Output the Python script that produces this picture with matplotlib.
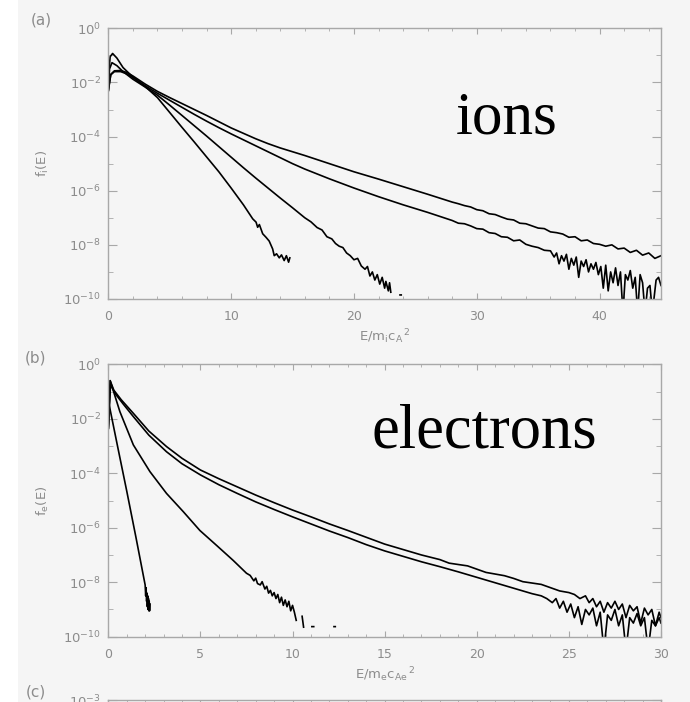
import numpy as np
import matplotlib
matplotlib.use("Agg")
import matplotlib.pyplot as plt
from matplotlib.ticker import FixedLocator, FuncFormatter, MultipleLocator, NullFormatter
from matplotlib.patches import Rectangle

plt.rcParams['mathtext.fontset'] = 'dejavusans'
plt.rcParams['font.family'] = ['DejaVu Sans']

GRAY = '#8c8c8c'
SPINE = '#a8a8a8'
BG = '#f5f5f5'

# --- ion spectra (log10 f vs E/m_i c_A^2) ---
ion_a_E = [0, 0.05, 0.15, 0.35, 0.7, 1.2, 2, 3, 4, 5, 6, 7, 8, 9, 10, 11, 11.76, 12.03, 12.16,
           12.3, 12.57, 12.84, 13.1, 13.38, 13.51, 13.7, 13.92, 14.1, 14.32, 14.5, 14.68, 14.78]
ion_a_logf = [-2.3, -1.6, -1.05, -0.93, -1.1, -1.45, -1.8, -2.15, -2.56, -3.11, -3.66, -4.2,
              -4.75, -5.3, -5.9, -6.52, -7.04, -7.16, -7.35, -7.25, -7.59, -7.72, -7.86, -8.15,
              -8.4, -8.33, -8.48, -8.37, -8.58, -8.4, -8.64, -8.48]

ion_b_E = [0, 0.1, 0.3, 0.7, 1.2, 2, 3, 4, 5, 6, 7, 8, 9, 10, 11, 12, 13, 14, 15, 16, 16.5, 17,
           17.4, 17.8, 18.2, 18.5, 18.8, 19.1, 19.4, 19.7, 20.0, 20.3, 20.6, 20.9, 21.1, 21.3,
           21.5, 21.7, 21.9, 22.1, 22.3, 22.5, 22.6, 22.8, 22.9, 23.0, np.nan, 23.75, 23.85]
ion_b_logf = [-2.3, -1.5, -1.27, -1.38, -1.6, -1.88, -2.17, -2.47, -2.84, -3.22, -3.6, -3.98,
              -4.37, -4.76, -5.15, -5.53, -5.9, -6.27, -6.63, -7.0, -7.15, -7.36, -7.45, -7.7,
              -7.78, -7.95, -8.05, -8.1, -8.3, -8.4, -8.55, -8.5, -8.78, -8.9, -8.8, -9.15, -9.0,
              -9.3, -9.1, -9.45, -9.2, -9.6, -9.35, -9.7, -9.4, -9.75, np.nan, -9.85, -9.85]

ion_c_E = [0, 0.2, 0.5, 1, 1.5, 2, 3, 4, 5, 6, 7, 8, 9, 10, 11, 12, 13, 14, 15, 16, 18, 20, 22,
           24, 26, 28, 28.5, 29, 29.5, 30, 30.5, 31, 31.5, 32, 32.5, 33, 33.5, 34, 34.5, 35,
           35.5, 36, 36.3, 36.5, 36.7, 36.9, 37.1, 37.3, 37.5, 37.7, 37.9, 38.1, 38.3, 38.5,
           38.7, 38.9, 39.1, 39.3, 39.5, 39.7, 39.9, 40.1, 40.3, 40.5, 40.7, 40.9, 41.1, 41.3,
           41.5, 41.7, 41.9, 42.1, 42.3, 42.5, 42.7, 42.9, 43.1, 43.3, 43.5, 43.7, 43.9, 44.1,
           44.3, 44.6, 44.8, 45]
ion_c_logf = [-2.3, -1.72, -1.6, -1.6, -1.68, -1.82, -2.12, -2.4, -2.66, -2.92, -3.18, -3.43,
              -3.67, -3.9, -4.12, -4.34, -4.56, -4.78, -5.0, -5.2, -5.56, -5.9, -6.22, -6.52,
              -6.8, -7.1, -7.2, -7.22, -7.3, -7.4, -7.42, -7.55, -7.58, -7.7, -7.72, -7.85,
              -7.82, -7.98, -8.05, -8.1, -8.2, -8.22, -8.45, -8.3, -8.7, -8.4, -8.6, -8.35,
              -8.9, -8.5, -8.75, -8.45, -9.2, -8.6, -8.8, -8.55, -9.0, -8.7, -8.9, -8.65, -9.1,
              -8.8, -9.6, -8.75, -9.7, -9.0, -9.4, -8.85, -9.5, -9.0, -10.5, -9.1, -9.3, -8.95,
              -9.6, -9.2, -10.5, -9.1, -9.4, -10.5, -9.6, -9.5, -10.5, -9.3, -9.2, -9.5]

ion_d_E = [0, 0.2, 0.5, 1, 1.5, 2, 3, 4, 5, 6, 7, 8, 9, 10, 11, 12, 13, 14, 15, 16, 18, 20, 22,
           24, 26, 28, 28.5, 29, 29.5, 30, 30.5, 31, 31.5, 32, 32.5, 33, 33.5, 34, 34.5, 35,
           35.5, 36, 36.5, 37, 37.5, 38, 38.5, 39, 39.5, 40, 40.5, 41, 41.5, 42, 42.5, 43,
           43.5, 44, 44.5, 45]
ion_d_logf = [-2.3, -1.7, -1.57, -1.56, -1.63, -1.76, -2.06, -2.33, -2.56, -2.78, -3.0, -3.22,
              -3.45, -3.68, -3.88, -4.08, -4.26, -4.42, -4.56, -4.7, -5.0, -5.3, -5.57, -5.85,
              -6.13, -6.42, -6.48, -6.55, -6.6, -6.7, -6.74, -6.85, -6.88, -6.97, -7.05, -7.08,
              -7.2, -7.22, -7.3, -7.38, -7.4, -7.52, -7.55, -7.6, -7.72, -7.7, -7.85, -7.82,
              -7.95, -7.98, -8.05, -8.0, -8.15, -8.12, -8.28, -8.2, -8.38, -8.3, -8.5, -8.4]

# --- electron spectra (log10 f vs E/m_e c_Ae^2) ---
ele_a_E = [0, 0.05, 0.5, 1.0, 1.5, 1.8, 2.0, 2.03, 2.05, 2.08, 2.1, 2.12, 2.14, 2.16, 2.18,
           2.2, 2.22, 2.24, 2.26]
ele_a_logf = [-2.35, -1.5, -3.0, -4.65, -6.35, -7.4, -8.1, -8.5, -8.2, -8.7, -8.4, -8.9, -8.5,
              -9.0, -8.6, -9.05, -8.7, -9.05, -8.8]

ele_b_E = [0, 0.1, 0.63, 1.36, 2.26, 3.16, 4.07, 4.97, 5.88, 6.78, 7.5, 7.7, 7.9, 8.0, 8.1,
           8.25, 8.35, 8.5, 8.6, 8.7, 8.8, 8.9, 9.0, 9.1, 9.2, 9.3, 9.4, 9.5, 9.6, 9.7, 9.8,
           9.9, 10.0, 10.1, 10.2, np.nan, 10.52, 10.6, np.nan, 11.05, 11.15, np.nan, 12.25, 12.32]
ele_b_logf = [-2.35, -0.6, -1.74, -2.96, -3.94, -4.74, -5.41, -6.1, -6.65, -7.2, -7.67,
              -7.75, -7.95, -7.85, -8.05, -8.1, -7.98, -8.25, -8.15, -8.4, -8.3, -8.5, -8.38,
              -8.6, -8.45, -8.75, -8.55, -8.85, -8.65, -8.9, -8.7, -9.05, -8.85, -9.1, -9.4,
              np.nan, -9.25, -9.65, np.nan, -9.63, -9.63, np.nan, -9.63, -9.63]

ele_c_E = [0, 0.12, 0.4, 0.8, 1.36, 2.2, 3.16, 4, 5, 6, 7, 8, 9, 10, 11, 12, 13, 14, 15, 16,
           17, 18, 19, 20, 21, 22, 23, 23.5, 23.8, 24.1, 24.3, 24.5, 24.7, 24.9, 25.1, 25.3,
           25.5, 25.7, 25.9, 26.1, 26.3, 26.5, 26.7, 26.9, 27.1, 27.3, 27.5, 27.7, 27.9, 28.1,
           28.3, 28.5, 28.7, 28.9, 29.1, 29.3, 29.5, 29.7, 29.9, 30.0]
ele_c_logf = [-2.35, -0.75, -1.1, -1.45, -1.92, -2.6, -3.21, -3.65, -4.06, -4.42, -4.74, -5.05,
              -5.33, -5.6, -5.86, -6.12, -6.36, -6.62, -6.85, -7.05, -7.25, -7.43, -7.62, -7.82,
              -8.02, -8.22, -8.42, -8.5, -8.6, -8.75, -8.6, -8.95, -8.7, -9.1, -8.8, -9.3, -8.9,
              -9.55, -9.0, -9.2, -8.95, -9.6, -9.1, -10.5, -9.2, -9.4, -9.0, -9.6, -9.2, -10.5,
              -9.3, -9.5, -9.15, -9.6, -9.3, -10.5, -9.4, -9.6, -9.3, -9.5]

ele_d_E = [0, 0.1, 0.3, 0.7, 1.36, 2.2, 3.16, 4, 5, 6, 7, 8, 9, 10, 11, 12, 13, 14, 15, 16,
           17, 18, 18.5, 19, 19.5, 20, 20.5, 21, 21.5, 22, 22.5, 23, 23.5, 24, 24.5, 25, 25.3,
           25.6, 25.9, 26.1, 26.3, 26.5, 26.7, 26.9, 27.1, 27.3, 27.5, 27.7, 27.9, 28.1, 28.3,
           28.5, 28.7, 28.9, 29.1, 29.3, 29.5, 29.7, 29.9, 30.0]
ele_d_logf = [-2.35, -0.6, -0.95, -1.3, -1.8, -2.45, -3.02, -3.45, -3.88, -4.2, -4.5, -4.8,
              -5.08, -5.35, -5.6, -5.86, -6.1, -6.35, -6.6, -6.8, -7.0, -7.17, -7.3, -7.35,
              -7.4, -7.52, -7.64, -7.7, -7.76, -7.86, -7.98, -8.03, -8.08, -8.2, -8.32, -8.38,
              -8.45, -8.6, -8.5, -8.75, -8.6, -8.9, -8.7, -9.1, -8.75, -8.95, -8.7, -9.0, -8.8,
              -9.3, -8.85, -9.05, -8.9, -9.5, -8.95, -9.2, -9.0, -9.6, -9.1, -9.3]

ion_series = [(ion_a_E, ion_a_logf), (ion_b_E, ion_b_logf),
              (ion_c_E, ion_c_logf), (ion_d_E, ion_d_logf)]
ele_series = [(ele_a_E, ele_a_logf), (ele_b_E, ele_b_logf),
              (ele_c_E, ele_c_logf), (ele_d_E, ele_d_logf)]

W, H = 690, 702
fig = plt.figure(figsize=(W / 100, H / 100), dpi=100, facecolor='white')
fig.patches.append(Rectangle((18 / W, 0), 1, 1, transform=fig.transFigure,
                             facecolor=BG, edgecolor='none', zorder=-10))


def px_axes(left, top, right, bottom):
    return fig.add_axes([left / W, 1 - bottom / H, (right - left) / W, (bottom - top) / H])


def pow_label(v, pos):
    return r'$10^{%d}$' % int(round(np.log10(v)))


def style(ax, xmax, xmajor, xminor):
    ax.set_facecolor(BG)
    ax.set_yscale('log')
    ax.set_ylim(1e-10, 1)
    ax.set_xlim(0, xmax)
    ax.yaxis.set_major_locator(FixedLocator([10.0 ** k for k in range(-10, 1, 2)]))
    ax.yaxis.set_minor_locator(FixedLocator([10.0 ** k for k in range(-9, 0, 2)]))
    ax.yaxis.set_major_formatter(FuncFormatter(pow_label))
    ax.yaxis.set_minor_formatter(NullFormatter())
    ax.xaxis.set_major_locator(MultipleLocator(xmajor))
    ax.xaxis.set_minor_locator(MultipleLocator(xminor))
    for s in ax.spines.values():
        s.set_color(SPINE)
        s.set_linewidth(1.0)
    ax.tick_params(which='both', direction='in', top=True, right=True,
                   color=SPINE, labelcolor=GRAY, labelsize=9)
    ax.tick_params(axis='y', which='major', length=6.5, pad=5, labelsize=9.5)
    ax.tick_params(axis='y', which='minor', length=3.5)
    ax.tick_params(axis='x', which='major', length=4, pad=8)
    ax.tick_params(axis='x', which='minor', length=2)


# panel (a): ions
ax1 = px_axes(108.3, 28.3, 661, 299)
style(ax1, 45, 10, 2)
for E, lf in ion_series:
    ax1.plot(E, 10.0 ** np.array(lf), color='black', lw=1.2)
ax1.set_xlabel(r'$\mathrm{E/m_i c_A}^{\,2}$', color=GRAY, fontsize=9.5, labelpad=3)
ax1.set_ylabel(r'$\mathrm{f_i(E)}$', color=GRAY, fontsize=9.5, labelpad=9)

# panel (b): electrons
ax2 = px_axes(108.3, 364.3, 661, 636.7)
style(ax2, 30, 5, 1)
for E, lf in ele_series:
    ax2.plot(E, 10.0 ** np.array(lf), color='black', lw=1.2)
ax2.set_xlabel(r'$\mathrm{E/m_e c_{Ae}}^{\,2}$', color=GRAY, fontsize=9.5, labelpad=3)
ax2.set_ylabel(r'$\mathrm{f_e(E)}$', color=GRAY, fontsize=9.5, labelpad=9)

# panel (c): only its top edge shows at the bottom of the picture
ax3 = px_axes(108.3, 700, 661, 972)
style(ax3, 30, 5, 1)
ax3.set_ylim(1e-9, 1e-3)
ax3.yaxis.set_major_locator(FixedLocator([1e-3]))
ax3.tick_params(axis='x', which='both', labelbottom=False)

fig.text(41 / W, 1 - 20 / H, '(a)', color=GRAY, fontsize=11, ha='center', va='center')
fig.text(36 / W, 1 - 358 / H, '(b)', color=GRAY, fontsize=11, ha='center', va='center')
fig.text(36 / W, 1 - 692 / H, '(c)', color=GRAY, fontsize=11, ha='center', va='center')

fig.text(456 / W, 1 - 134 / H, 'ions', family='Liberation Serif', fontsize=44,
         ha='left', va='baseline', color='black')
fig.text(372 / W, 1 - 448 / H, 'electrons', family='Liberation Serif', fontsize=45,
         ha='left', va='baseline', color='black')

fig.savefig('out.png', dpi=100, facecolor=fig.get_facecolor())
